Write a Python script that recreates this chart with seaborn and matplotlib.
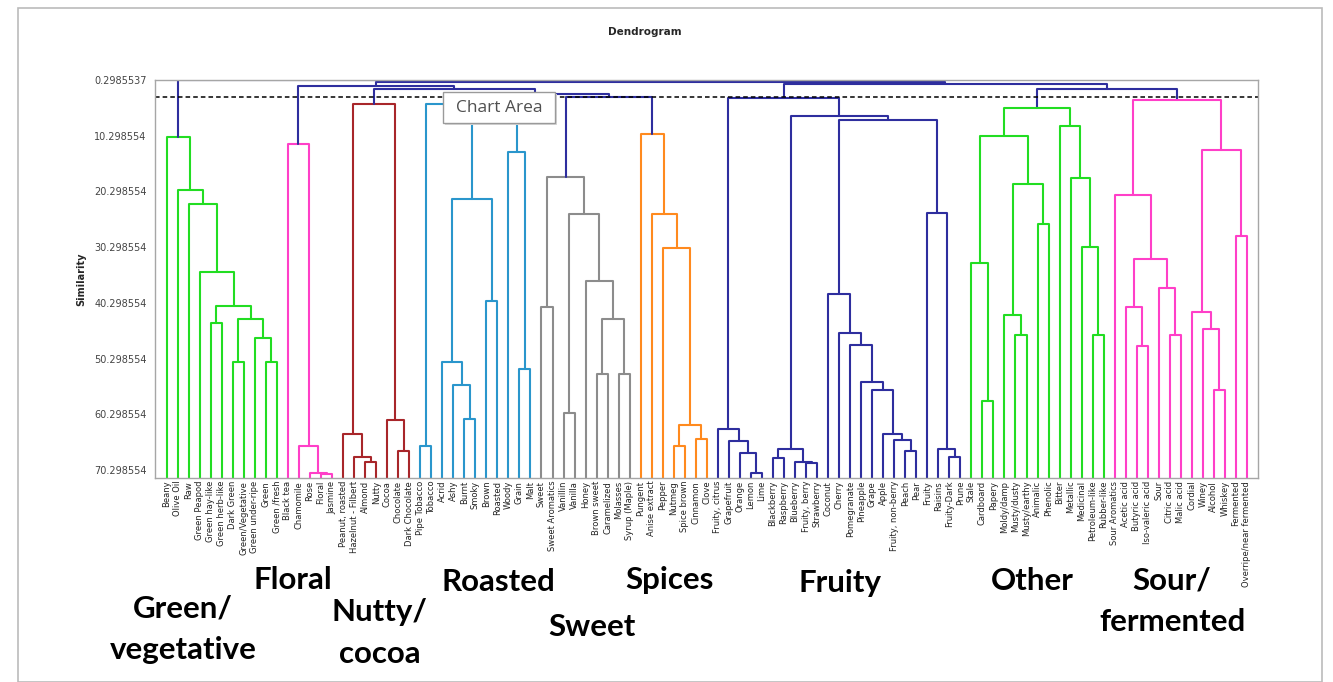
import matplotlib
matplotlib.use('Agg')
import matplotlib.pyplot as plt
from matplotlib.patches import Rectangle
import pandas as pd
import seaborn as sns

sns.set_style('white')
plt.rcParams['font.family'] = ['DejaVu Sans']

W, H = 1333, 682
LEAF_H = 71.74

# ---- cluster trees: (left, right, similarity level) ----
green_tree = ("Beany", ("Olive Oil", ("Raw", ("Green Peapod",
              (("Green hay-like", "Green herb-like", 44.0),
               (("Dark Green", "Green/Vegetative", 51.0),
                ("Green under-ripe", ("Green", "Green /fresh", 51.0), 46.6), 43.2), 40.8),
              34.8), 22.6), 20.1), 10.55)

floral_tree = ("Black tea", ("Chamomile", ("Rose", ("Floral", "Jasmine", 71.1), 70.9), 66.0), 11.8)

nutty_tree = (("Peanut, roasted", ("Hazelnut - Filbert", ("Almond", "Nutty", 68.8), 68.0), 63.9),
              ("Cocoa", ("Chocolate", "Dark Chocolate", 66.9), 61.3), 4.6)

roasted_tree = (("Pipe Tobacco", "Tobacco", 66.0),
                ((("Acrid", ("Ashy", ("Burnt", "Smoky", 61.1), 55.1), 51.0),
                  ("Brown", "Roasted", 40.0), 21.6),
                 ("Woody", ("Grain", "Malt", 52.2), 13.2), 7.0), 4.6)

sweet_tree = (("Sweet", "Sweet Aromatics", 41.1),
              (("Vanillin", "Vanilla", 60.0),
               ("Honey", (("Brown sweet", "Caramelized", 53.0),
                          ("Molasses", "Syrup (Maple)", 53.0), 43.2), 36.3), 24.4), 17.75)

spices_tree = ("Pungent", ("Anise extract", ("Pepper",
               (("Nutmeg", "Spice brown", 66.0), ("Cinnamon", "Clove", 64.8), 62.25),
               30.4), 24.4), 10.0)

fruity_tree = (("Fruity, citrus", ("Grapefruit", ("Orange", ("Lemon", "Lime", 70.9), 67.3), 65.1), 63.0),
               ((("Blackberry", "Raspberry", 68.1),
                 ("Blueberry", ("Fruity, berry", "Strawberry", 69.0), 68.8), 66.6),
                (("Coconut", ("Cherry", ("Pomegranate", ("Pineapple", ("Grape", ("Apple",
                   ("Fruity, non-berry", ("Peach", "Pear", 66.9), 64.9), 63.9), 55.9),
                   54.5), 47.8), 45.7), 38.7),
                 ("Fruity", ("Raisins", ("Fruity-Dark", "Prune", 68.0), 66.6), 24.2), 7.4), 6.7), 3.6)

other_tree = ((("Stale", ("Cardboard", "Papery", 58.0), 33.1),
               (("Moldy/damp", ("Musty/dusty", "Musty/earthy", 46.0), 42.4),
                ("Animalic", "Phenolic", 26.2), 18.9), 10.4),
              ("Bitter", ("Metallic", ("Medicinal", ("Petroleum-like", "Rubber-like", 46.0), 30.2),
                          17.8), 8.5), 5.4)

sour_tree = (("Sour Aromatics", (("Acetic acid", ("Butyric acid", "Iso-valeric acid", 48.1), 41.1),
                                 ("Sour", ("Citric acid", "Malic acid", 46.0), 37.6), 32.5), 20.9),
             (("Cordial", ("Winey", ("Alcohol", "Whiskey", 55.9), 45.0), 42.0),
              ("Fermented", "Overripe/near fermented", 28.3), 12.9), 3.9)

# joins above the cut
top_tree = (green_tree,
            ((floral_tree, (nutty_tree, (roasted_tree, (sweet_tree, spices_tree, 3.3), 2.9), 1.9), 1.4),
             (fruity_tree, (other_tree, sour_tree, 1.95), 1.05), 0.7), 0.35)

cluster_colors = {'green': '#22DD22', 'floral': '#FF3FC8', 'nutty': '#A8262A',
                  'roasted': '#2A96CC', 'sweet': '#8C8C8C', 'spices': '#FF8A1E',
                  'fruity': '#2E2E9E', 'other': '#22DD22', 'sour': '#FF3FC8',
                  'top': '#2E2E9E'}
cluster_of = {id(green_tree): 'green', id(floral_tree): 'floral', id(nutty_tree): 'nutty',
              id(roasted_tree): 'roasted', id(sweet_tree): 'sweet', id(spices_tree): 'spices',
              id(fruity_tree): 'fruity', id(other_tree): 'other', id(sour_tree): 'sour'}

cut_level = 3.35
ytick_vals = [0.2985537 + 10 * k for k in range(8)]
ytick_labels = ['0.2985537', '10.298554', '20.298554', '30.298554',
                '40.298554', '50.298554', '60.298554', '70.298554']

group_labels = ['Green/\nvegetative', 'Floral', 'Nutty/\ncocoa', 'Roasted', 'Sweet',
                'Spices', 'Fruity', 'Other', 'Sour/\nfermented']
group_label_px = [(183, 629), (293, 580), (380, 633), (498, 582), (592, 627),
                  (669, 580), (840, 583), (1032, 581), (1172, 601)]

leaves = []
rows = []


def walk(node, grp):
    if isinstance(node, str):
        leaves.append(node)
        return len(leaves) - 1, LEAF_H
    grp = cluster_of.get(id(node), grp)
    a, b, h = node
    xa, ha = walk(a, grp)
    xb, hb = walk(b, grp)
    seg = len(rows)
    for x, y in [(xa, ha), (xa, h), (xb, h), (xb, hb)]:
        rows.append((seg, x, y, grp))
    return (xa + xb) / 2, h


walk(top_tree, 'top')
df = pd.DataFrame(rows, columns=['seg', 'x', 'y', 'grp'])

fig = plt.figure(figsize=(W / 100, H / 100), dpi=100)
ax = fig.add_axes([155 / W, 1 - 478 / H, (1258 - 155) / W, (478 - 80) / H])

sns.lineplot(data=df, x='x', y='y', units='seg', estimator=None, sort=False,
             hue='grp', palette=cluster_colors, legend=False, lw=1.5, ax=ax)
ax.axhline(cut_level, color='black', ls=(0, (3, 2)), lw=1.1)

ax.set_xlim(-1.06, 99.0)
ax.set_ylim(LEAF_H, 0.2985537)
ax.set_xticks(range(len(leaves)))
ax.set_xticklabels(leaves, rotation=90, fontsize=6.0, color='#222222')
ax.tick_params(axis='x', length=0, pad=2)
ax.set_yticks(ytick_vals)
ax.set_yticklabels(ytick_labels, fontsize=7, color='#444444')
ax.tick_params(axis='y', direction='inout', length=6, color='#888888', pad=3)
ax.set_xlabel('')
ax.set_ylabel('Similarity', fontsize=7, weight='bold', labelpad=6)
for sp in ax.spines.values():
    sp.set_color('#A6A6A6')
    sp.set_linewidth(1)

fig.text(645 / W, 1 - 32 / H, 'Dendrogram', fontsize=7.5, weight='bold', ha='center', va='center')

for lab, (px, py) in zip(group_labels, group_label_px):
    fig.text(px / W, 1 - py / H, lab, fontsize=22.5, weight='bold', family='Lato',
             color='black', ha='center', va='center', linespacing=1.6)

# Excel tooltip left over in the screenshot
fig.add_artist(Rectangle((445 / W, 1 - 125 / H), 112 / W, 31 / H, transform=fig.transFigure,
                         facecolor='#D8D8D8', edgecolor='none', zorder=9))
fig.add_artist(Rectangle((443 / W, 1 - 123 / H), 112 / W, 31 / H, transform=fig.transFigure,
                         facecolor='white', edgecolor='#9A9A9A', lw=1, zorder=10))
fig.text(499 / W, 1 - 108 / H, 'Chart Area', fontsize=12.5, color='#505050', family='Open Sans',
         ha='center', va='center', zorder=11)

# outer frame of the screenshot
fig.add_artist(Rectangle((18 / W, 0), (1322 - 18) / W, 1 - 8 / H, transform=fig.transFigure,
                         facecolor='none', edgecolor='#BBBBBB', lw=1.2))

fig.savefig('out.png', dpi=100)
